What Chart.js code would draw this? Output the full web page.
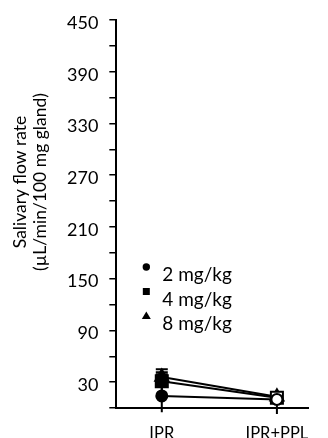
<!DOCTYPE html>
<html>
<head>
<meta charset="utf-8">
<script src="https://cdn.jsdelivr.net/npm/chart.js@4/dist/chart.umd.min.js"></script>
<style>
  html, body { margin: 0; padding: 0; background: #fff; }
  #wrap { width: 328px; height: 438px; }
</style>
</head>
<body>
<div id="wrap"><canvas id="chart"></canvas></div>
<script>
const categories = ["IPR", "IPR+PPL"];
const doseLabels = ["2 mg/kg", "4 mg/kg", "8 mg/kg"];
const dose2 = [14, 10];
const dose4 = [31, 12];
const dose8 = [36, 13];
// upper / lower error (SEM)
const errUp2 = [25, 4];
const errDown2 = [19, 17];
const errUp4 = [10.5, 4];
const errDown4 = [10, 5];
const errUp8 = [9, 4];
const errDown8 = [9, 5];
const yTicks = [30, 90, 150, 210, 270, 330, 390, 450];
const yTitle = ["Salivary flow rate", "(\u00b5L/min/100 mg gland)"];

const pointStyles = ["circle", "rect", "triangle"];
const pointSizes = [5.5, 8.5, 7.5];
const series = [dose2, dose4, dose8];
const errUp = [errUp2, errUp4, errUp8];
const errDown = [errDown2, errDown4, errDown8];

const ctx = document.getElementById("chart").getContext("2d");

// error bars drawn from the scales, under the markers
const errorBars = {
  id: "errorBars",
  beforeDatasetsDraw(chart) {
    const c = chart.ctx;
    const xs = chart.scales.x, ys = chart.scales.y;
    c.save();
    c.strokeStyle = "#000";
    c.lineWidth = 2;
    series.forEach((vals, i) => {
      vals.forEach((v, j) => {
        const x = xs.getPixelForValue(j);
        const top = ys.getPixelForValue(v + errUp[i][j]);
        const bot = ys.getPixelForValue(v - errDown[i][j]);
        c.beginPath();
        c.moveTo(x, top); c.lineTo(x, bot);
        c.moveTo(x - 6, top); c.lineTo(x + 6, top);
        c.stroke();
      });
    });
    c.restore();
  }
};

// legend inside the plot area + rotated two-line y title
const extras = {
  id: "extras",
  afterDraw(chart) {
    const c = chart.ctx;
    const area = chart.chartArea;
    const x0 = area.left + 30;
    const y0 = area.top + 261;
    c.save();
    c.fillStyle = "#000";
    c.font = "19px Lato";
    c.textBaseline = "alphabetic";
    doseLabels.forEach((lab, i) => {
      const y = y0 + i * 24.5;
      const my = y - 14;
      c.beginPath();
      if (pointStyles[i] === "circle") {
        c.arc(x0, my, 3.7, 0, Math.PI * 2);
      } else if (pointStyles[i] === "rect") {
        c.rect(x0 - 3.5, my - 3.5, 7, 7);
      } else {
        c.moveTo(x0, my - 4.5); c.lineTo(x0 + 4.5, my + 3); c.lineTo(x0 - 4.5, my + 3); c.closePath();
      }
      c.fill();
      c.fillText(lab, x0 + 16, y);
    });

    c.font = "17.5px Lato";
    c.textAlign = "center";
    c.textBaseline = "middle";
    c.translate(0, 182);
    c.rotate(-Math.PI / 2);
    c.fillText(yTitle[0], 0, 20);
    c.fillText(yTitle[1], 0, 40);
    c.restore();
  }
};

const chart = new Chart(ctx, {
  type: "line",
  data: {
    datasets: series.map((vals, i) => ({
      label: doseLabels[i],
      data: vals.map((v, j) => ({ x: j, y: v })),
      borderColor: "#000",
      borderWidth: 2,
      pointStyle: pointStyles[i],
      pointRadius: pointSizes[i],
      pointBackgroundColor: ["#000", "#fff"],
      pointBorderColor: "#000",
      pointBorderWidth: 2,
      clip: false
    }))
  },
  options: {
    responsive: true,
    maintainAspectRatio: false,
    animation: false,
    layout: { padding: { top: 20, left: 56, right: 0, bottom: 0 } },
    plugins: { legend: { display: false }, tooltip: { enabled: false } },
    scales: {
      x: {
        type: "linear",
        min: -0.395,
        max: 1.275,
        afterBuildTicks: (scale) => { scale.ticks = categories.map((c, j) => ({ value: j })); },
        afterFit: (scale) => { scale.height = 30; },
        ticks: {
          callback: (v) => categories[v],
          color: "#000",
          font: { family: "Lato", size: 16.5, lineHeight: 0.9 },
          maxRotation: 0,
          autoSkip: false,
          padding: 18
        },
        grid: { display: false, drawTicks: false },
        border: { color: "#000", width: 2 }
      },
      y: {
        min: 0,
        max: 450,
        afterBuildTicks: (scale) => {
          const t = [];
          for (let v = 0; v <= 450; v += 30) t.push({ value: v });
          scale.ticks = t;
        },
        ticks: {
          callback: (v) => yTicks.includes(v) ? String(v) : "",
          color: "#000",
          font: { family: "Lato", size: 18, lineHeight: 0.6 },
          autoSkip: false,
          padding: 11,
          labelOffset: 3
        },
        grid: { drawOnChartArea: false, drawTicks: true, tickLength: 7, color: "#000", lineWidth: 1.5 },
        border: { color: "#000", width: 2 }
      }
    }
  },
  plugins: [errorBars, extras]
});
</script>
</body>
</html>
